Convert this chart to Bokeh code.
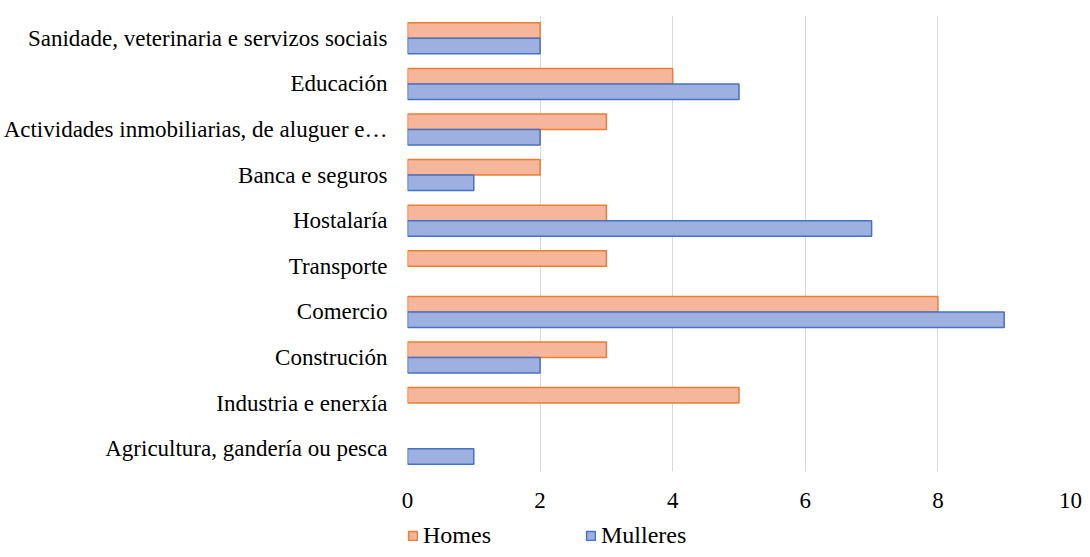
from bokeh.plotting import figure
from bokeh.layouts import column
from bokeh.models import ColumnDataSource, FactorRange, Range1d, Legend, LegendItem, FixedTicker
from bokeh.transform import dodge
from bokeh.embed import file_html
from bokeh.resources import INLINE

categories = [
    "Agricultura, gandería ou pesca",
    "Industria e enerxía",
    "Construción",
    "Comercio",
    "Transporte",
    "Hostalaría",
    "Banca e seguros",
    "Actividades inmobiliarias, de aluguer e…",
    "Educación",
    "Sanidade, veterinaria e servizos sociais",
]
homes = [0, 5, 3, 8, 3, 3, 2, 3, 4, 2]
mulleres = [1, 0, 2, 9, 0, 7, 1, 2, 5, 2]
x_ticks = [0, 2, 4, 6, 8, 10]
series_names = ["Homes", "Mulleres"]

FONT = "Liberation Serif"
H_FILL, H_LINE = "#F5B69B", "#ED7D31"
M_FILL, M_LINE = "#9DB0DF", "#4472C4"

source = ColumnDataSource(dict(
    cat=categories,
    homes=homes,
    mulleres=mulleres,
    homes_la=[0 if v == 0 else 1 for v in homes],
    mulleres_la=[0 if v == 0 else 1 for v in mulleres],
))

p = figure(
    y_range=FactorRange(factors=categories),
    x_range=Range1d(0, 10),
    width=1074, height=521,
    frame_width=663, frame_height=456,
    min_border_left=398, min_border_top=15, min_border_right=13, min_border_bottom=50,
    output_backend="svg", toolbar_location=None,
)

p.hbar(y=dodge("cat", 0.17, range=p.y_range), right="homes", left=0, height=0.34,
       source=source, fill_color=H_FILL, line_color=H_LINE, line_width=1.5,
       line_alpha="homes_la")
p.hbar(y=dodge("cat", -0.17, range=p.y_range), right="mulleres", left=0, height=0.34,
       source=source, fill_color=M_FILL, line_color=M_LINE, line_width=1.5,
       line_alpha="mulleres_la")

p.outline_line_color = None
p.ygrid.grid_line_color = None
p.xgrid.grid_line_color = "#D9D9D9"
p.xgrid.grid_line_width = 1

p.xaxis.ticker = FixedTicker(ticks=x_ticks)
p.xaxis.axis_line_color = None
p.xaxis.major_tick_line_color = None
p.xaxis.minor_tick_line_color = None
p.xaxis.major_tick_out = 0
p.xaxis.major_label_standoff = 21
p.xaxis.major_label_text_font = FONT
p.xaxis.major_label_text_font_size = "23px"
p.xaxis.major_label_text_color = "#000000"

p.yaxis.axis_line_color = None
p.yaxis.major_tick_line_color = None
p.yaxis.minor_tick_line_color = None
p.yaxis.major_tick_out = 0
p.yaxis.major_label_standoff = 20
p.yaxis.major_label_text_font = FONT
p.yaxis.major_label_text_font_size = "23px"
p.yaxis.major_label_text_color = "#000000"

# legend strip below the chart
lf = figure(
    width=1074, height=28, x_range=Range1d(0, 1), y_range=Range1d(0, 1),
    min_border=0, x_axis_location=None, y_axis_location=None,
    output_backend="svg", toolbar_location=None,
)
lf.outline_line_color = None
lf.grid.visible = False
# legend-only glyphs (hidden; only their legend icons are drawn)
lh = lf.hbar(y=[-5], right=[1], height=0.5,
             fill_color=H_FILL, line_color=H_LINE, line_width=1.5, visible=False)
lm = lf.hbar(y=[-5], right=[1], height=0.5,
             fill_color=M_FILL, line_color=M_LINE, line_width=1.5, visible=False)
legend = Legend(
    items=[LegendItem(label=series_names[0], renderers=[lh]),
           LegendItem(label=series_names[1], renderers=[lm])],
    orientation="horizontal",
    location=(0, 0),
    glyph_width=11, glyph_height=11,
    label_standoff=5, spacing=94, padding=0, margin=0,
    label_text_font=FONT, label_text_font_size="24px", label_text_color="#000000",
    border_line_color=None, background_fill_alpha=0,
    inactive_fill_alpha=0,
)
lf.add_layout(legend, "center")

layout = column(p, lf, spacing=0)
open("out.html", "w").write(file_html(layout, INLINE))
